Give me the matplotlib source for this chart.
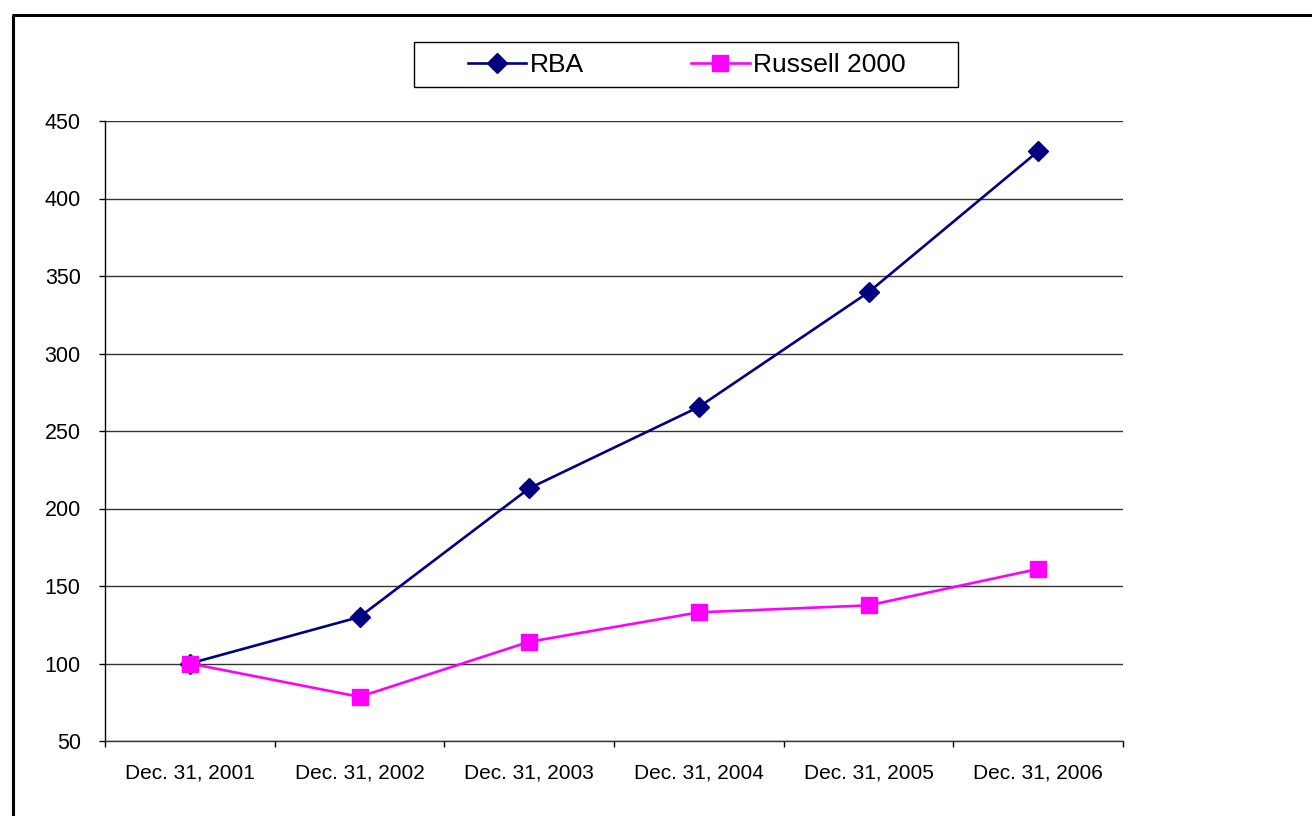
import matplotlib
matplotlib.use("Agg")
import matplotlib.pyplot as plt
from matplotlib.lines import Line2D
from matplotlib.patches import Rectangle
import numpy as np

categories = ["Dec. 31, 2001", "Dec. 31, 2002", "Dec. 31, 2003",
              "Dec. 31, 2004", "Dec. 31, 2005", "Dec. 31, 2006"]
rba = [100, 130, 213, 265.5, 339.5, 430.5]
russell = [100, 78.5, 114, 133, 137.5, 161]
y_ticks = [50, 100, 150, 200, 250, 300, 350, 400, 450]

plt.rcParams['font.family'] = ['Liberation Sans', 'DejaVu Sans']

fig = plt.figure(figsize=(13.12, 8.16), dpi=100)
W, H = 1312, 816
ax = fig.add_axes([105 / W, 1 - 741 / H, (1123 - 105) / W, (741 - 121) / H])

x = np.arange(len(categories))
l1, = ax.plot(x, rba, color='#000080', lw=1.9, marker='D', markersize=10,
              markerfacecolor='#000080', markeredgecolor='#000080', zorder=3)
l2, = ax.plot(x, russell, color='#FF00FF', lw=1.9, marker='s', markersize=11,
              markerfacecolor='#FF00FF', markeredgecolor='#FF00FF', zorder=4)

ax.set_xlim(-0.5, len(categories) - 0.5)
ax.set_ylim(50, 450)
ax.set_yticks(y_ticks)
ax.set_yticklabels([str(v) for v in y_ticks])
ax.yaxis.grid(True, color='#333333', lw=1.0)
ax.set_axisbelow(True)

ax.set_xticks(np.arange(-0.5, len(categories)), minor=False)
ax.set_xticklabels([''] * (len(categories) + 1))
ax.set_xticks(x, minor=True)
ax.set_xticklabels(categories, minor=True)
ax.tick_params(axis='x', which='major', length=4.5, width=1, color='black', direction='out')
ax.tick_params(axis='x', which='minor', length=0, pad=16, labelsize=15)
ax.tick_params(axis='y', length=4.5, width=1, direction='out', pad=13, labelsize=15.5)

for s in ['top', 'right']:
    ax.spines[s].set_visible(False)
ax.spines['left'].set_color('black')
ax.spines['left'].set_linewidth(1)
ax.spines['bottom'].set_color('#333333')
ax.spines['bottom'].set_linewidth(1)

# outer frame
fig.add_artist(Line2D([12.5 / W, 12.5 / W], [0, 1 - 15 / H], transform=fig.transFigure,
                      color='black', lw=2.2, solid_capstyle='butt'))
fig.add_artist(Line2D([11.5 / W, 1], [1 - 15 / H, 1 - 15 / H], transform=fig.transFigure,
                      color='black', lw=2.2, solid_capstyle='butt'))

# legend box
fig.add_artist(Rectangle((414 / W, 1 - 87 / H), (958 - 414) / W, (87 - 42) / H,
                         transform=fig.transFigure, facecolor='white',
                         edgecolor='black', lw=1))
leg = fig.legend([l1, l2], ["RBA", "Russell 2000"], ncol=2, loc='center',
                 bbox_to_anchor=(687 / W, 1 - 65.5 / H), frameon=False,
                 fontsize=19, handlelength=2.2, handletextpad=0.15,
                 columnspacing=4.07, borderaxespad=0)

fig.savefig("out.png", dpi=100, facecolor='white')
